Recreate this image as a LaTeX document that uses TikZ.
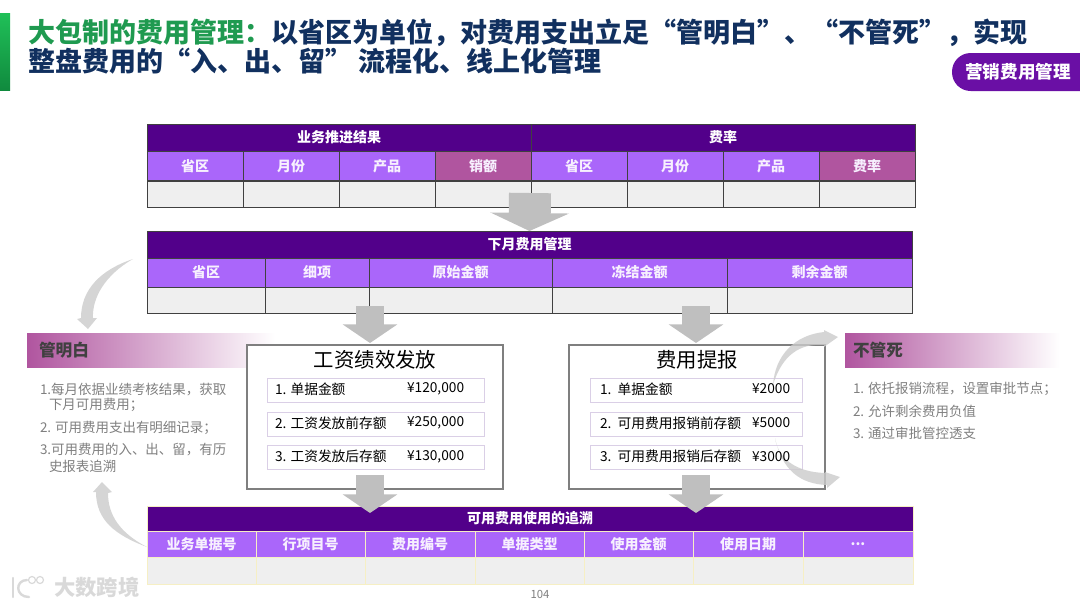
\documentclass[tikz,border=0pt]{standalone}
\usepackage{fontspec}
\setmainfont{Noto Sans CJK SC}
\usepackage{tikz}
\usetikzlibrary{positioning, calc, arrows.meta}

\definecolor{titlegreen}{HTML}{1F9A50}
\definecolor{accenttop}{HTML}{20C058}
\definecolor{accentend}{HTML}{108A3E}
\definecolor{titleblue}{HTML}{11305F}
\definecolor{darkpurple}{HTML}{52008A}
\definecolor{midpurple}{HTML}{AA66FA}
\definecolor{rosepurple}{HTML}{B0559F}
\definecolor{pillpurple}{HTML}{6A0FA5}
\definecolor{cellgray}{HTML}{EFEFEF}
\definecolor{arrowgray}{HTML}{BFBFBF}
\definecolor{bendgray}{HTML}{CBCBCB}
\definecolor{linegray}{HTML}{404040}
\definecolor{palecell}{HTML}{F6EFC4}
\definecolor{textgray}{HTML}{7F7F7F}
\definecolor{rowline}{HTML}{DACFE6}
\def\moredots{...}

\begin{document}
\begin{tikzpicture}[
  x=0.75pt, y=-0.75pt,
  every node/.style={inner sep=0pt, outer sep=0pt},
  bannercell/.style={draw=linegray, line width=0.4pt, fill=darkpurple, text=white, font=\fontsize{10.5}{12}\selectfont\bfseries, minimum height=27*0.75pt},
  headcell/.style={draw=linegray, line width=0.4pt, fill=midpurple, text=white!90!midpurple, font=\fontsize{10.5}{12}\selectfont\bfseries, minimum height=29*0.75pt},
  bodycell/.style={draw=linegray, line width=0.5pt, fill=cellgray, minimum height=26*0.75pt},
  listtext/.style={anchor=west, text=textgray, font=\fontsize{10.1}{11}\selectfont},
  sidebanner/.style={anchor=west, left color=rosepurple, right color=white, minimum height=34*0.75pt},
  sidelabel/.style={anchor=west, text=linegray, font=\fontsize{12.5}{14}\selectfont\bfseries},
  stagebox/.style={draw=textgray, line width=1.5pt, fill=white, minimum width=256*0.75pt, minimum height=144*0.75pt},
  stagetitle/.style={font=\fontsize{15.3}{17}\selectfont},
  rowbox/.style={draw=rowline, line width=0.6pt, fill=white, minimum width=212*0.75pt, minimum height=24*0.75pt},
  itemtext/.style={anchor=west, font=\fontsize{10.3}{12}\selectfont},
  blockarrow/.style={draw=arrowgray, line width=28*0.75pt, -{Triangle[length=14pt, width=40.5pt]}},
  widearrow/.style={draw=arrowgray, line width=42*0.75pt, -{Triangle[length=13.5pt, width=58.5pt]}},
  bendarrow/.style={fill=bendgray, draw=none, opacity=0.8},
]
  \useasboundingbox (0,0) rectangle (1080,608);

  % Slide heading
  \node (accent) [minimum width=10*0.75pt, minimum height=77*0.75pt, top color=accenttop, bottom color=accentend] at (5,51.5) {};
  \node (heading) [anchor=north west, align=left, text=titleblue, font=\fontsize{20.25}{21.75}\selectfont\bfseries] at (28,18.5)
    {\textcolor{titlegreen}{大包制的费用管理：}以省区为单位，对费用支出立足“管明白”、“不管死”，实现\\整盘费用的“入、出、留” 流程化、线上化管理};
  \fill [pillpurple, rounded corners=14pt] (952,53) rectangle (1100,91);
  \node (tag) [text=white, font=\fontsize{13.2}{15}\selectfont\bfseries] at (1018,72) {营销费用管理};

  % Results and rate table
  \node (results) [bannercell, minimum width=384*0.75pt] at (339,137.5) {业务推进结果};
  \node (rates) [bannercell, minimum width=384*0.75pt] at (723,137.5) {费率};
  \foreach \cx/\ctext [count=\i] in {195/省区,291/月份,387/产品,483/销额,579/省区,675/月份,771/产品,867/费率} {
    \node (rhead\i) [headcell, minimum width=96*0.75pt] at (\cx,166) {\ctext};
    \node (rbody\i) [bodycell, minimum width=96*0.75pt] at (\cx,194) {};
  }
  \node (rhead4) [headcell, fill=rosepurple, minimum width=96*0.75pt] at (483,166) {销额};
  \node (rhead8) [headcell, fill=rosepurple, minimum width=96*0.75pt] at (867,166) {费率};

  % Next month table
  \node (manage) [bannercell, minimum width=765*0.75pt] at (529.5,244.5) {下月费用管理};
  \foreach \cx/\cw/\ctext [count=\i] in {206/118/省区,317/104/细项,460.5/183/原始金额,639.5/175/冻结金额,819.5/185/剩余金额} {
    \node (mhead\i) [headcell, minimum width=\cw*0.75pt] at (\cx,272.5) {\ctext};
    \node (mbody\i) [bodycell, minimum width=\cw*0.75pt] at (\cx,300) {};
  }

  % Left notes
  \node (clearband) [sidebanner, minimum width=248*0.75pt] at (27,350) {};
  \node (clearlabel) [sidelabel] at (39,350) {管明白};
  \node (clear1) [listtext] at (40,390) {1.每月依据业绩考核结果，获取};
  \node (clear1b) [listtext] at (49,405) {下月可用费用；};
  \node (clear2) [listtext] at (40,428) {2. 可用费用支出有明细记录；};
  \node (clear3) [listtext] at (40,450) {3.可用费用的入、出、留，有历};
  \node (clear3b) [listtext] at (49,466) {史报表追溯};

  % Right notes
  \node (freeband) [sidebanner, minimum width=215*0.75pt] at (845,350) {};
  \node (freelabel) [sidelabel] at (853,350) {不管死};
  \node (free1) [listtext] at (853,389) {1. 依托报销流程，设置审批节点；};
  \node (free2) [listtext] at (853,411) {2. 允许剩余费用负值};
  \node (free3) [listtext] at (853,433) {3. 通过审批管控透支};

  % Wage box
  \node (wage) [stagebox] at (375,417) {};
  \node (wagetitle) [stagetitle] at (375,360) {工资绩效发放};
  \foreach \ry/\rtext/\rval [count=\i] in {390/1. 单据金额/{¥120,000},424/2. 工资发放前存额/{¥250,000},457.5/3. 工资发放后存额/{¥130,000}} {
    \node (wagerow\i) [rowbox, minimum width=217*0.75pt] at (375.5,\ry) {};
    \node (wageitem\i) [itemtext] at (275,\ry-1) {\rtext};
    \node (wageval\i) [itemtext] at (407,\ry-1) {\rval};
  }

  % Expense box
  \node (claim) [stagebox] at (697,417) {};
  \node (claimtitle) [stagetitle] at (697,360) {费用提报};
  \foreach \ry/\rtext [count=\i] in {390/1.\ \ 单据金额,424/2.\ \ 可用费用报销前存额,457.5/3.\ \ 可用费用报销后存额} {
    \node (claimrow\i) [rowbox] at (696,\ry) {};
    \node (claimitem\i) [itemtext] at (600,\ry-1) {\rtext};
  }

  % Trace table
  \node (trace) [bannercell, draw=palecell, minimum width=766*0.75pt, minimum height=25*0.75pt] at (530,518.5) {可用费用使用的追溯};
  \foreach \cx/\cw/\ctext [count=\i] in {201.5/109/业务单据号,310.5/109/行项目号,420/110/费用编号,529.5/109/单据类型,638.5/109/使用金额,748/110/使用日期,858/110/\moredots} {
    \node (thead\i) [headcell, draw=palecell, minimum width=\cw*0.75pt, minimum height=26*0.75pt] at (\cx,544) {\ctext};
    \node (tbody\i) [bodycell, draw=palecell, minimum width=\cw*0.75pt, minimum height=27*0.75pt] at (\cx,570.5) {};
  }

  % Free ends of the block arrows
  \coordinate (ratetop) at (530,193);
  \coordinate (wagetop) at (370,306);
  \coordinate (wagetip) at (370,343);
  \coordinate (claimtop) at (696,306);
  \coordinate (claimtip) at (696,343);
  \coordinate (wageout) at (370,475);
  \coordinate (wageend) at (370,513);
  \coordinate (claimout) at (696,475);
  \coordinate (claimend) at (696,513);

  % Block arrows
  \draw [widearrow] (ratetop) -- (manage.north);
  \draw [blockarrow] (wagetop) -- (wagetip);
  \draw [blockarrow] (claimtop) -- (claimtip);
  \draw [blockarrow] (wageout) -- (wageend);
  \draw [blockarrow] (claimout) -- (claimend);

  % Bent arrows
  \fill [bendarrow] (133,259) .. controls (100,270) and (81,290) .. (81,318) -- (77,319) -- (88,329) -- (97,318) -- (93,318) .. controls (92,298) and (105,275) .. (133,259) -- cycle;
  \fill [bendarrow] (147,547) .. controls (115,535) and (96,520) .. (96,492) -- (93,492) -- (102,482) -- (112,492) -- (108,493) .. controls (108,515) and (120,533) .. (147,547) -- cycle;
  \fill [bendarrow] (773,385) .. controls (775,355) and (795,335) .. (824,332) -- (824,330) -- (838,337) -- (824,347) -- (824,345) .. controls (800,343) and (782,355) .. (773,385) -- cycle;
  \fill [bendarrow] (775,438) .. controls (778,458) and (795,472) .. (825,473) -- (825,472) -- (840,477) -- (827,488) -- (827,485) .. controls (800,484) and (782,470) .. (775,438) -- cycle;

  % Amounts stay readable over the bent arrows
  \foreach \ry/\rval [count=\i] in {390/¥2000,424/¥5000,457.5/¥3000} {
    \node (claimval\i) [itemtext] at (752,\ry-1) {\rval};
  }

  % Footer
  \node (page) [text=textgray, font=\fontsize{8.5}{10}\selectfont] at (540,594) {104};
  \node (mark) [anchor=west, text=black!15, font=\fontsize{16}{18}\selectfont\bfseries] at (54,587) {大数跨境};
  \draw [black!15, line width=1.8pt, line cap=round] (13,578) -- (13,597);
  \draw [black!15, line width=1.8pt, line cap=round] (27,580) .. controls (15,580) and (15,597) .. (29,597);
  \draw [black!15, line width=0.9pt] (32,580) circle (3.5) (40,580) circle (3.5);
\end{tikzpicture}
\end{document}
